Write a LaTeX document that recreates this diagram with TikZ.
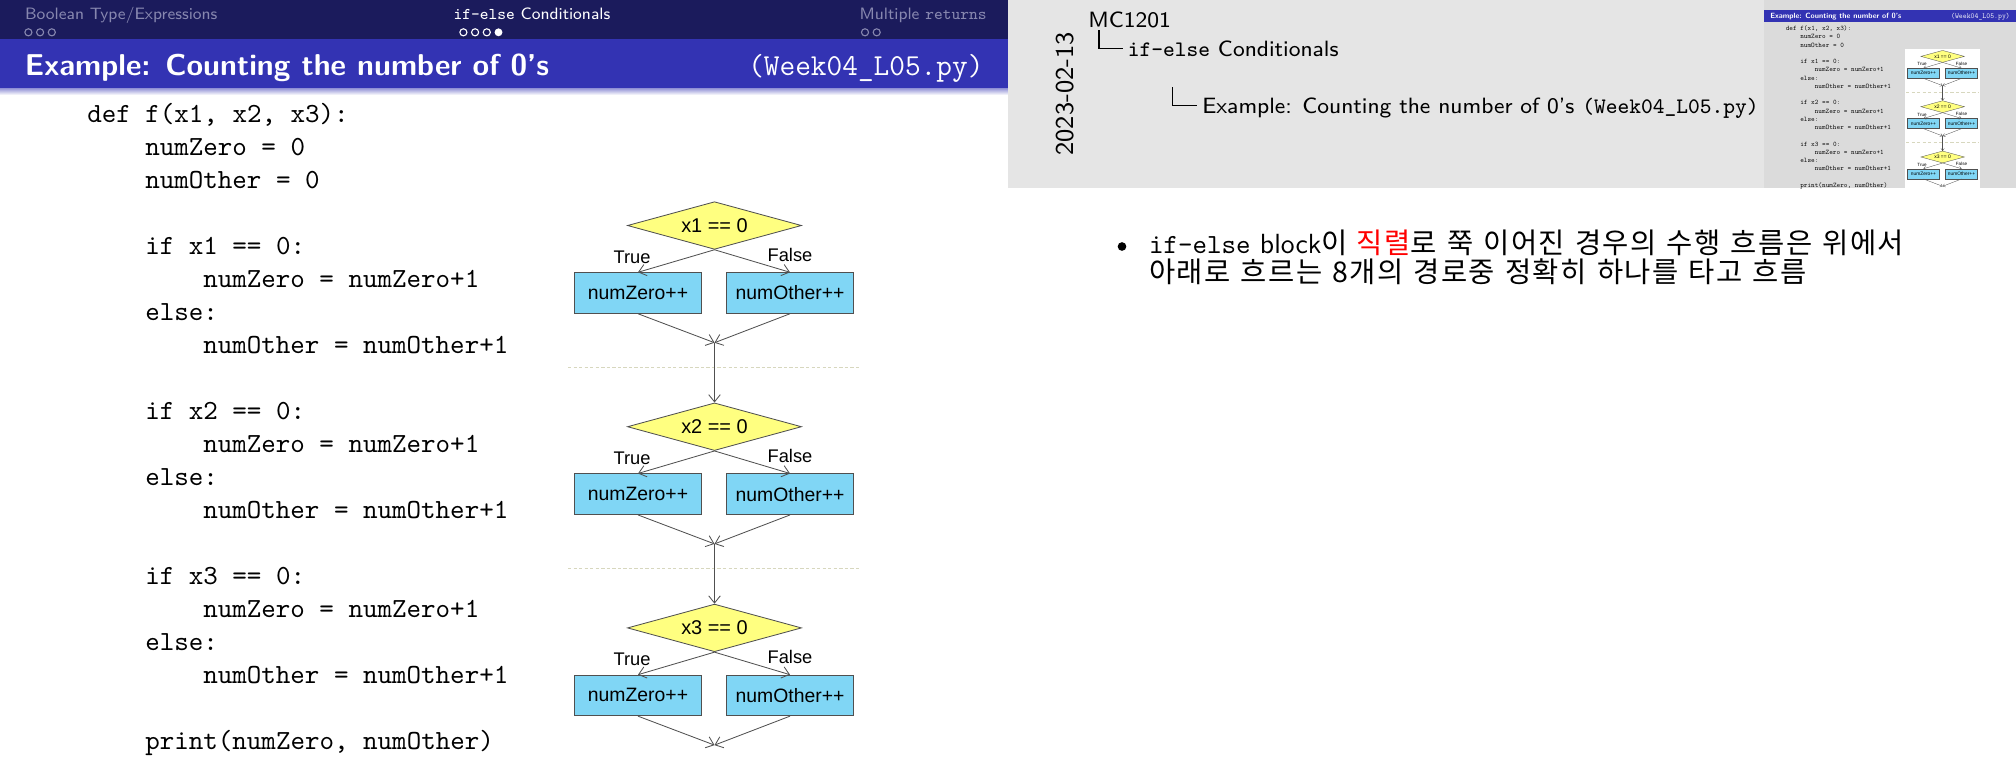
\documentclass[tikz,border=0pt]{standalone}
\usepackage{fontspec}
\newfontfamily\kr{Noto Sans CJK KR}[Scale=1.03, LetterSpace=5, WordSpace=1.3]
\newfontfamily\chartfont{Liberation Sans}
\usetikzlibrary{shapes.geometric,arrows.meta}

\definecolor{navbg}{RGB}{27,27,92}
\definecolor{navdim}{RGB}{135,135,175}
\definecolor{titlebg}{RGB}{51,51,179}
\definecolor{boxblue}{RGB}{128,214,245}
\definecolor{diayellow}{RGB}{255,255,128}
\definecolor{edgegray}{RGB}{80,80,80}
\definecolor{sepline}{RGB}{215,215,190}

\tikzset{
  navtext/.style={font=\sffamily\fontsize{5.95}{7}\selectfont, inner sep=0pt},
  titletext/.style={font=\sffamily\bfseries\fontsize{10.9}{13}\selectfont, text=white, inner sep=0pt},
  titlett/.style={font=\ttfamily\fontsize{11}{13}\selectfont, text=white, inner sep=0pt},
  codeline/.style={font=\ttfamily\fontsize{10}{12}\selectfont, inner sep=0pt},
  decision/.style={diamond, aspect=3.6, draw=edgegray, fill=diayellow, line width=0.3pt,
    inner sep=0pt, minimum width=22.1mm, minimum height=6.05mm,
    font=\chartfont\fontsize{7.2}{8}\selectfont},
  stepbox/.style={rectangle, draw=edgegray, fill=boxblue, line width=0.3pt,
    inner sep=0pt, minimum width=16.2mm, minimum height=5.16mm,
    font=\chartfont\fontsize{7}{8}\selectfont},
  branchlabel/.style={font=\chartfont\fontsize{6.6}{8}\selectfont, inner sep=0pt},
  flowarrow/.style={draw=edgegray, line width=0.3pt, -{Straight Barb[length=2.6pt,width=4.2pt]}},
  sepstyle/.style={draw=sepline, line width=0.3pt, dash pattern=on 1.2pt off 0.8pt},
  notetext/.style={font=\sffamily\fontsize{10}{12}\selectfont, inner sep=0pt},
  treetext/.style={font=\sffamily\fontsize{8}{10}\selectfont, inner sep=0pt},
  treeline/.style={line width=0.4pt},
}

% title bar, code and flow chart of the slide (also used for the thumbnail)
\newcommand{\slidebody}{%
  \fill[titlebg] (0,39) rectangle (1008,88);
  \node[titletext, anchor=base west] (ttl) at (24.4,75) {Example: Counting the number of 0's};
  \node[titlett, anchor=base east] (ttlfile) at (984,75) {(Week04\_L05.py)};
  \foreach \k/\lvl/\txt in {0/0/{def f(x1, x2, x3):}, 1/1/{numZero = 0}, 2/1/{numOther = 0},
      4/1/{if x1 == 0:}, 5/2/{numZero = numZero+1}, 6/1/{else:}, 7/2/{numOther = numOther+1},
      9/1/{if x2 == 0:}, 10/2/{numZero = numZero+1}, 11/1/{else:}, 12/2/{numOther = numOther+1},
      14/1/{if x3 == 0:}, 15/2/{numZero = numZero+1}, 16/1/{else:}, 17/2/{numOther = numOther+1},
      19/1/{print(numZero, numOther)}}
    \node[codeline, anchor=base west] (code\k) at (86.7+58*\lvl,122+33*\k) {\txt};
  % flow chart
  \fill[white] (564,196) rectangle (862,756);
  \draw[sepstyle] (568,367.3) -- (860,367.3);
  \draw[sepstyle] (568,568.5) -- (860,568.5);
  \foreach \i [evaluate=\i as \dy using 201.2*(\i-1)] in {1,2,3} {
    \node[decision] (d\i) at (714.5,225.5+\dy) {x\i{} == 0};
    \node[stepbox] (z\i) at (638,293+\dy) {numZero++};
    \node[stepbox] (o\i) at (790,293+\dy) {numOther++};
    \node[branchlabel] (t\i) at (632,257+\dy) {True};
    \node[branchlabel] (f\i) at (790,255+\dy) {False};
    \coordinate (m\i) at (714.5,342.7+\dy);
    \draw[flowarrow] (d\i.south) -- (z\i.north);
    \draw[flowarrow] (d\i.south) -- (o\i.north);
    \draw[flowarrow] (z\i.south) -- (m\i);
    \draw[flowarrow] (o\i.south) -- (m\i);
  }
  \draw[flowarrow] (m1) -- (d2.north);
  \draw[flowarrow] (m2) -- (d3.north);
}

\begin{document}
\begin{tikzpicture}[x=0.127mm, y=-0.127mm]
\useasboundingbox (0,0) rectangle (2016,756);
\fill[white] (0,0) rectangle (2016,756);

% head line with the sections
\fill[navbg] (0,0) rectangle (1008,39);
\node[navtext, text=navdim, anchor=base west] (sec1) at (24.5,19) {Boolean Type/Expressions};
\node[navtext, text=white, anchor=base west] (sec2) at (453,19) {\texttt{if-else} Conditionals};
\node[navtext, text=navdim, anchor=base west] (sec3) at (859,19) {Multiple \texttt{returns}};
\foreach \cx in {28.4,40.1,51.8,865,876.7}
  \draw[navdim, line width=0.4pt] (\cx,32.3) circle[radius=0.45mm];
\foreach \cx in {463.4,475.1,486.8}
  \draw[white, line width=0.4pt] (\cx,32.3) circle[radius=0.45mm];
\fill[white] (498.5,32.3) circle[radius=0.5mm];
\shade[top color=titlebg!55, bottom color=white] (0,88) rectangle (1008,95);

\slidebody

% note page
\fill[black!10] (1008,0) rectangle (2016,188);
\node[treetext, font=\sffamily\fontsize{9.3}{11}\selectfont, rotate=90, anchor=base west] (date) at (1073.3,156) {2023-02-13};
\node[treetext, anchor=base west] (lect) at (1087.7,27.3) {MC1201};
\draw[treeline] (1099,30) |- (1123.3,48.3);
\node[treetext, anchor=base west] (nsec) at (1127.3,56) {\texttt{if-else} Conditionals};
\draw[treeline] (1172.7,87.3) |- (1197.3,105.7);
\node[treetext, anchor=base west] (nframe) at (1201.7,113.3) {Example: Counting the number of 0's \texttt{(Week04\_L05.py)}};

\begin{scope}
  \clip (1764,0) rectangle (2016,188);
  \fill[black!14] (1764,0) rectangle (2016,188);
  \begin{scope}[shift={(1764,0)}, scale=0.25, transform shape,
      decision/.append style={line width=0.12pt},
      stepbox/.append style={line width=0.12pt},
      flowarrow/.append style={line width=0.12pt, -{Straight Barb[length=0.8pt,width=1.2pt]}},
      sepstyle/.append style={line width=0.1pt}]
    \slidebody
  \end{scope}
\end{scope}

\node[circle, fill=black, inner sep=0pt, minimum size=1.1mm] (bul) at (1122,246.5) {};
\node[notetext, anchor=base west] (note1) at (1148.5,253) {\texttt{if-else} block{\kr 이} {\kr\color{red}직렬}{\kr 로 쭉 이어진 경우의 수행 흐름은 위에서}};
\node[notetext, anchor=base west] (note2) at (1148.5,282) {{\kr 아래로 흐르는 8개의 경로중 정확히 하나를 타고 흐름}};
\end{tikzpicture}
\end{document}
